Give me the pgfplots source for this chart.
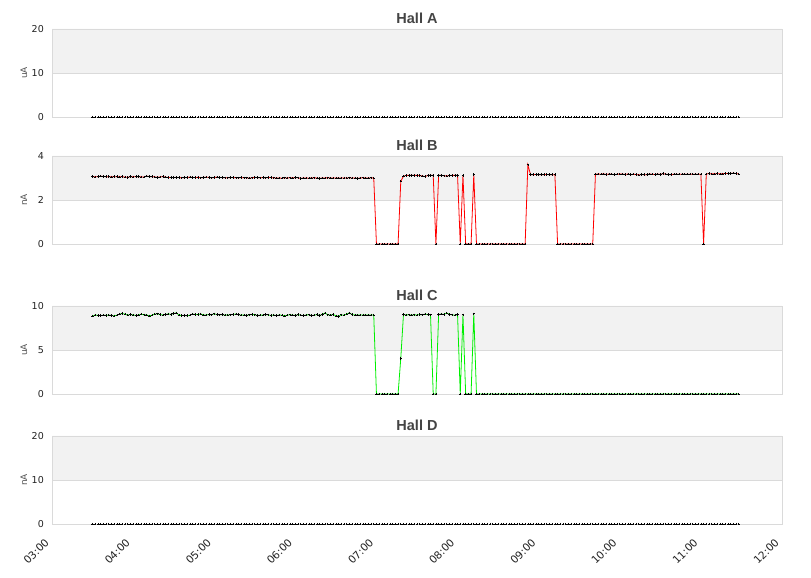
\documentclass[border=0pt]{standalone}
\usepackage{pgfplots}
\pgfplotsset{compat=1.18}
\usepackage{pgfplotstable}
\usepackage{fontspec}
\setmainfont{DejaVu Sans}
\newfontfamily\titlefont{Liberation Sans}
\definecolor{band}{HTML}{F2F2F2}
\definecolor{gridc}{HTML}{DADADA}
\definecolor{titlec}{HTML}{444444}
\definecolor{tickc}{HTML}{222222}
\definecolor{labc}{HTML}{555555}
\definecolor{lgreen}{HTML}{00F000}

\pgfplotstableread{
t A B C D
30 0 3.06 8.85 0
32 0 3.05 8.98 0
34 0 3.06 8.93 0
36 0 3.08 8.90 0
38 0 3.07 8.95 0
40 0 3.06 8.93 0
42 0 3.06 8.97 0
44 0 3.05 8.93 0
46 0 3.06 8.88 0
48 0 3.06 8.95 0
50 0 3.05 9.08 0
52 0 3.06 9.15 0
54 0 3.04 9.08 0
56 0 3.03 8.95 0
58 0 3.06 9.05 0
60 0 3.05 8.98 0
62 0 3.06 8.92 0
64 0 3.06 8.97 0
66 0 3.05 9.07 0
68 0 3.04 9.00 0
70 0 3.09 8.98 0
72 0 3.06 8.88 0
74 0 3.06 8.95 0
76 0 3.05 9.08 0
78 0 3.03 9.12 0
80 0 3.05 9.02 0
82 0 3.06 8.98 0
84 0 3.04 9.05 0
86 0 3.02 9.10 0
88 0 3.02 9.05 0
90 0 3.02 9.15 0
92 0 3.03 9.22 0
94 0 3.02 8.95 0
96 0 3.01 8.92 0
98 0 3.02 8.92 0
100 0 3.02 8.90 0
102 0 3.04 8.95 0
104 0 3.02 9.08 0
106 0 3.02 9.05 0
108 0 3.03 9.02 0
110 0 3.01 9.10 0
112 0 3.02 8.98 0
114 0 3.04 8.98 0
116 0 3.03 9.02 0
118 0 3.01 9.00 0
120 0 3.02 9.12 0
122 0 3.04 9.02 0
124 0 3.02 9.00 0
126 0 3.02 9.03 0
128 0 3.01 8.95 0
130 0 3.01 8.98 0
132 0 3.02 9.00 0
134 0 3.02 9.05 0
136 0 3.01 9.08 0
138 0 3.01 9.02 0
140 0 3.02 8.95 0
142 0 3.01 8.98 0
144 0 3.01 8.92 0
146 0 2.99 9.00 0
148 0 3.01 9.05 0
150 0 3.03 9.00 0
152 0 3.02 8.92 0
154 0 3.01 8.95 0
156 0 3.02 8.97 0
158 0 3.01 9.02 0
160 0 3.02 9.00 0
162 0 3.02 8.92 0
164 0 3.01 8.98 0
166 0 2.99 8.90 0
168 0 3.00 8.98 0
170 0 2.99 8.95 0
172 0 3.01 8.88 0
174 0 3.00 8.95 0
176 0 3.01 9.00 0
178 0 3.00 8.97 0
180 0 3.02 8.92 0
182 0 3.01 9.02 0
184 0 2.98 8.95 0
186 0 3.00 8.90 0
188 0 3.00 8.98 0
190 0 2.99 9.00 0
192 0 3.00 8.90 0
194 0 3.01 8.95 0
196 0 3.00 9.02 0
198 0 2.98 8.93 0
200 0 3.00 9.05 0
202 0 3.00 9.20 0
204 0 3.01 9.00 0
206 0 3.00 8.95 0
208 0 3.00 9.05 0
210 0 3.00 8.88 0
212 0 2.99 8.82 0
214 0 3.00 9.00 0
216 0 3.00 8.95 0
218 0 3.00 9.08 0
220 0 3.01 9.22 0
222 0 3.00 9.02 0
224 0 3.00 8.98 0
226 0 2.98 8.98 0
228 0 3.00 8.98 0
230 0 3.01 8.98 0
232 0 3.00 8.98 0
234 0 2.99 8.98 0
236 0 3.01 8.98 0
238 0 3.00 8.98 0
240 0 0 0 0
242 0 0 0 0
244 0 0 0 0
246 0 0 0 0
248 0 0 0 0
250 0 0 0 0
252 0 0 0 0
254 0 0 0 0
256 0 0 0 0
258 0 2.85 4.05 0
260 0 3.08 9.05 0
262 0 3.12 8.98 0
264 0 3.12 9.00 0
266 0 3.12 8.95 0
268 0 3.12 9.00 0
270 0 3.12 8.98 0
272 0 3.11 9.02 0
274 0 3.09 9.00 0
276 0 3.06 9.08 0
278 0 3.12 9.02 0
280 0 3.12 9.00 0
282 0 3.12 0 0
284 0 0 0 0
286 0 3.12 9.05 0
288 0 3.12 9.08 0
290 0 3.10 9.05 0
292 0 3.09 9.20 0
294 0 3.11 9.05 0
296 0 3.12 9.00 0
298 0 3.12 8.95 0
300 0 3.12 9.02 0
302 0 0 0 0
304 0 3.12 9.00 0
306 0 0 0 0
308 0 0 0 0
310 0 0 0 0
312 0 3.15 9.12 0
314 0 0 0 0
316 0 0 0 0
318 0 0 0 0
320 0 0 0 0
322 0 0 0 0
324 0 0 0 0
326 0 0 0 0
328 0 0 0 0
330 0 0 0 0
332 0 0 0 0
334 0 0 0 0
336 0 0 0 0
338 0 0 0 0
340 0 0 0 0
342 0 0 0 0
344 0 0 0 0
346 0 0 0 0
348 0 0 0 0
350 0 0 0 0
352 0 3.60 0 0
354 0 3.15 0 0
356 0 3.15 0 0
358 0 3.16 0 0
360 0 3.15 0 0
362 0 3.15 0 0
364 0 3.15 0 0
366 0 3.16 0 0
368 0 3.15 0 0
370 0 3.15 0 0
372 0 3.15 0 0
374 0 0 0 0
376 0 0 0 0
378 0 0 0 0
380 0 0 0 0
382 0 0 0 0
384 0 0 0 0
386 0 0 0 0
388 0 0 0 0
390 0 0 0 0
392 0 0 0 0
394 0 0 0 0
396 0 0 0 0
398 0 0 0 0
400 0 0 0 0
402 0 3.17 0 0
404 0 3.18 0 0
406 0 3.17 0 0
408 0 3.19 0 0
410 0 3.16 0 0
412 0 3.18 0 0
414 0 3.17 0 0
416 0 3.15 0 0
418 0 3.17 0 0
420 0 3.18 0 0
422 0 3.18 0 0
424 0 3.16 0 0
426 0 3.18 0 0
428 0 3.15 0 0
430 0 3.17 0 0
432 0 3.16 0 0
434 0 3.14 0 0
436 0 3.16 0 0
438 0 3.15 0 0
440 0 3.15 0 0
442 0 3.18 0 0
444 0 3.17 0 0
446 0 3.16 0 0
448 0 3.18 0 0
450 0 3.16 0 0
452 0 3.20 0 0
454 0 3.17 0 0
456 0 3.16 0 0
458 0 3.15 0 0
460 0 3.17 0 0
462 0 3.17 0 0
464 0 3.17 0 0
466 0 3.17 0 0
468 0 3.17 0 0
470 0 3.17 0 0
472 0 3.17 0 0
474 0 3.17 0 0
476 0 3.17 0 0
478 0 3.17 0 0
480 0 3.17 0 0
482 0 0 0 0
484 0 3.18 0 0
486 0 3.20 0 0
488 0 3.19 0 0
490 0 3.19 0 0
492 0 3.20 0 0
494 0 3.19 0 0
496 0 3.19 0 0
498 0 3.21 0 0
500 0 3.20 0 0
502 0 3.21 0 0
504 0 3.22 0 0
506 0 3.20 0 0
508 0 3.19 0 0
}\data

\pgfplotsset{
  panel/.style={
    set layers, scale only axis, width=730pt, height=88pt, anchor=south west,
    xmin=0, xmax=540, xtick={0,60,...,540}, xticklabels={},
    axis line style={draw=gridc, line width=0.8pt},
    major tick length=0pt, tick style={draw=none},
    ymajorgrids, grid style={draw=gridc, line width=0.8pt},
    /pgf/number format/assume math mode=true,
    yticklabel style={font=\fontsize{9.5}{10}\selectfont, color=tickc, inner sep=0pt, xshift=-8pt},
    ylabel style={font=\fontsize{9}{10}\selectfont, color=labc, at={(axis description cs:-0.0384,0.5)}, anchor=center},
    every axis title shift=5pt,
    title style={font=\titlefont\fontsize{14.5}{16}\selectfont\bfseries, color=titlec, at={(axis description cs:0.5,1)}, anchor=base},
    clip=false,
  },
  mk/.style={mark=+, mark size=1.2pt, mark options={black, solid, line width=0.6pt}},
}

\newcommand{\bandplot}[2]{\addplot[fill=band, draw=none, on layer=axis background, forget plot] coordinates {(0,#1) (540,#1) (540,#2) (0,#2) (0,#1)};}

\begin{document}
\begin{tikzpicture}

\begin{axis}[panel, at={(52pt,461pt)}, ymin=0, ymax=20, ytick={0,10,20}, ylabel={uA}, title={Hall A}]
\bandplot{10}{20}
\addplot[only marks, mk] table[x=t, y=A]{\data};
\end{axis}

\begin{axis}[panel, at={(52pt,334pt)}, ymin=0, ymax=4, ytick={0,2,4}, ylabel={nA}, title={Hall B}]
\bandplot{2}{4}
\addplot[red, line width=0.8pt, mk] table[x=t, y=B]{\data};
\end{axis}

\begin{axis}[panel, at={(52pt,184pt)}, ymin=0, ymax=10, ytick={0,5,10}, ylabel={uA}, title={Hall C}]
\bandplot{5}{10}
\addplot[lgreen, line width=0.8pt, mk] table[x=t, y=C]{\data};
\end{axis}

\begin{axis}[panel, at={(52pt,54pt)}, ymin=0, ymax=20, ytick={0,10,20}, ylabel={nA}, title={Hall D},
  xticklabels={03:00,04:00,05:00,06:00,07:00,08:00,09:00,10:00,11:00,12:00},
  xticklabel style={font=\fontsize{10.5}{12}\selectfont, color=tickc, yshift=-16.5pt, xshift=-5pt, rotate=45, anchor=east, inner sep=0pt}]
\bandplot{10}{20}
\addplot[only marks, mk] table[x=t, y=D]{\data};
\end{axis}

\path (0,0) rectangle (811pt,578pt);
\end{tikzpicture}
\end{document}
